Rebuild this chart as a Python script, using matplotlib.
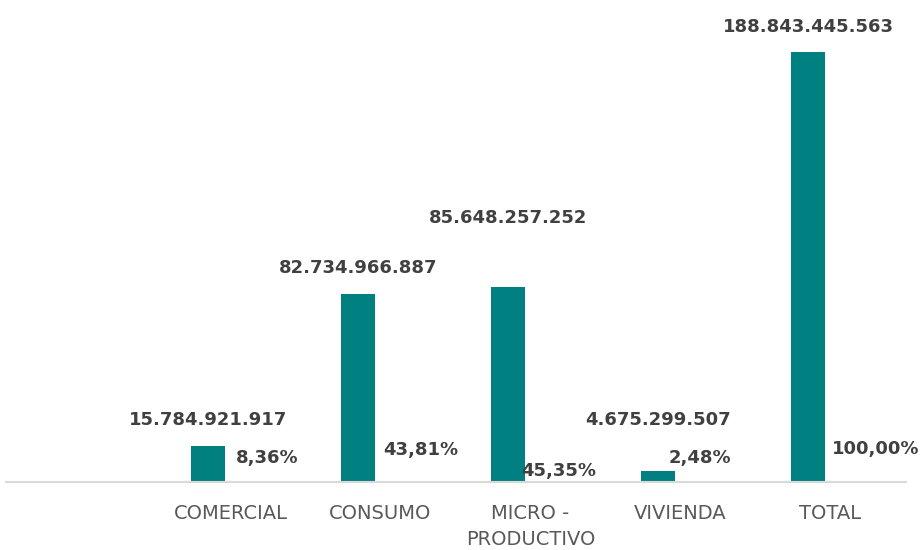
import numpy as np
import matplotlib.pyplot as plt

categorias = ['', 'COMERCIAL', 'CONSUMO', 'MICRO -\nPRODUCTIVO', 'VIVIENDA', 'TOTAL']
montos = [np.nan, 15784921917, 82734966887, 85648257252, 4675299507, 188843445563]
porcentajes = [np.nan, 8.36, 43.81, 45.35, 2.48, 100.00]

# label nudges (pixels) copied from the manually moved excel labels
monto_dy = [0, 26, 26, 69, 51, 25]
pct_dx = [0, 5, 3, -9, -12, 1]
pct_dy = [0, 24, 32, 11, 24, 33]

def fmt_monto(v):
    return f'{v:,.0f}'.replace(',', '.')

def fmt_pct(v):
    return f'{v:.2f}%'.replace('.', ',')

px = 0.72  # pixels -> points at dpi 100

fig = plt.figure(figsize=(9.22, 5.5), dpi=100)
ax = fig.add_axes([5.5 / 922, 1 - 482 / 550, 900 / 922, 482 / 550])

x = np.arange(len(categorias))
ax.bar(x - 0.147, montos, width=0.227, color='#008080')

ax.set_xlim(-0.5, len(categorias) - 0.5)
ax.set_ylim(0, np.nanmax(montos) * 482 / 430)

for i in range(1, len(categorias)):
    ax.annotate(fmt_monto(montos[i]), (x[i] - 0.147, montos[i]),
                xytext=(0, monto_dy[i] * px), textcoords='offset points',
                ha='center', va='center', fontsize=13, fontweight='bold',
                color='#404040')
    ax.annotate(fmt_pct(porcentajes[i]), (x[i], 0),
                xytext=(pct_dx[i] * px, pct_dy[i] * px), textcoords='offset points',
                ha='left', va='center', fontsize=13, fontweight='bold',
                color='#404040')

ax.set_xticks(x)
ax.set_xticklabels(categorias, fontsize=14, color='#595959', linespacing=1.45)
ax.tick_params(axis='x', length=0, pad=16)
ax.set_yticks([])
for s in ['top', 'right', 'left']:
    ax.spines[s].set_visible(False)
ax.spines['bottom'].set_color('#d9d9d9')
ax.spines['bottom'].set_linewidth(1.5)

fig.savefig('out.png', dpi=100)
